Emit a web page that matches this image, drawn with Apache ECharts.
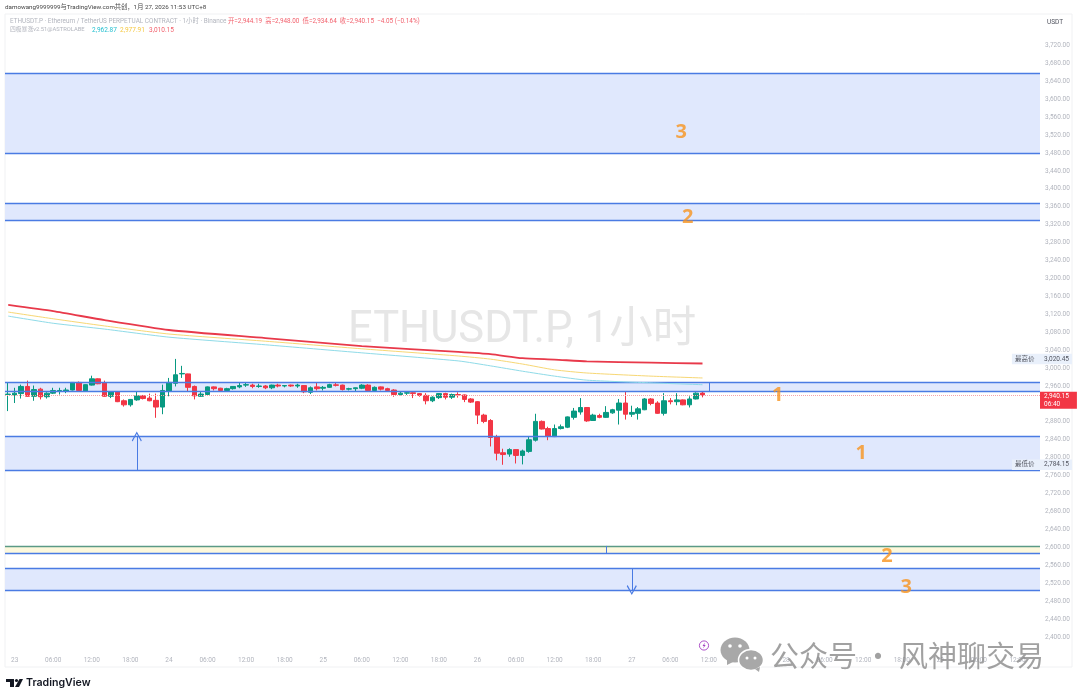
<!DOCTYPE html>
<html>
<head>
<meta charset="utf-8">
<title>ETHUSDT.P</title>
<style>
  html, body { margin: 0; padding: 0; background: #fff; }
  #chart { width: 1080px; height: 699px; }
</style>
<script src="https://cdn.jsdelivr.net/npm/echarts@6/dist/echarts.min.js"></script>
</head>
<body>
<div id="chart"></div>
<script>
// K线数据，每小时一根，从 22日 23:00 开始
var opens = [2941,2940,2943,2959,2937,2953,2936,2944,2949,2949,2951,2968,2949,2962,2976,2967,2937,2947,2927,2918,
  2929,2938,2933,2928,2913,2949,2966,2987,2987,2959,2937,2941,2958,2955,2950,2954,2958,2962,2962,2959,
  2960,2956,2962,2960,2962,2960,2961,2946,2958,2955,2957,2962.5,2962,2953,2954,2955,2962,2950,2958,2954,
  2951,2941,2944,2945,2943,2939,2927,2934,2943,2935,2941,2940,2931,2925,2895,2883,2847,2811,2808,2818,
  2805,2814,2839,2881,2865,2847,2865,2868,2890,2902,2912,2883,2894,2890,2900,2906,2922,2897,2899,2907,
  2931,2922,2899,2927,2925,2929,2918,2931,2944.19];
var closes = [2942,2944,2959,2937,2952,2936,2944,2950,2950,2951,2968,2950,2963,2976,2965,2937,2947,2925,2918,2930,
  2938,2932,2927,2913,2950,2968,2985,2988,2957,2938,2942,2958,2954,2950,2954,2959,2961,2963,2959,2960,
  2956,2962,2960,2961,2960,2962,2947,2956,2954,2957,2963,2961.5,2952,2954,2956,2962,2950,2957,2953,2950,
  2941,2944,2945,2943,2939,2927,2935,2943,2935,2941,2940,2930,2924,2895,2881,2845,2810,2807,2818,2805,
  2815,2840,2881,2864,2848,2865,2869,2891,2904,2912,2882,2895,2890,2901,2907,2922,2897,2901,2909,2931,
  2921,2899,2927,2925,2929,2918,2931,2944,2940.15];
var lows = [2904,2922,2932,2936,2927,2930,2932,2942,2941,2944,2950,2948,2948,2961,2964,2936,2933,2924,2914,2914,
  2927,2930,2926,2889,2897,2937,2959,2978,2948,2930,2936,2940,2950,2948,2947,2952,2955,2958,2955,2956,
  2953,2953,2957,2957,2958,2956,2944,2942,2950,2950,2956,2959,2950,2950,2948,2953,2948,2948,2950,2947,
  2936,2939,2940,2933,2936,2919,2924,2931,2930,2931,2934,2924,2922,2875,2877,2825,2794,2784.15,2802,2787,
  2785,2811,2836,2863,2839,2846,2863,2866,2885,2896,2880,2882,2888,2889,2898,2874,2885,2891,2885,2906,
  2917,2898,2894,2919,2917,2917,2912,2930,2934.64];
var highs = [2968,2956,2963,2972,2961,2956,2946,2956,2956,2956,2968.5,2970,2964,2983,2977,2972,2948,2948,2930,2931,
  2947,2940,2943,2943,2963,2978,3020.45,3005,2987.5,2961,2948,2959,2959,2956,2956,2959.5,2968,2967,2965,2965,
  2962,2963,2965,2962,2963,2965,2962,2959,2967,2960,2965,2967,2963,2956,2956.5,2964,2964,2959,2959,2956,
  2953,2948,2948,2947,2944,2944,2937,2944,2945,2943,2946,2941,2933,2926,2898,2886,2851,2820,2821,2818.5,
  2818,2848,2898,2883,2869,2874,2874,2892,2911,2933,2913,2898,2898,2915,2909,2931,2948,2916,2913,2933,
  2933,2926,2944,2933,2944,2930,2937,2946,2948];

// 四极暴涨三条线，读图取点
var maIndex = [0,7,15,25,40,55,70,75,80,85,90,100,108];
var maCyan = [3116,3100,3087,3069,3052,3034,3016,3005,2993,2982,2973,2967,2962.87];
var maYellow = [3125,3110,3094,3076,3060,3043,3027,3020,3009,2996,2989,2982,2977.91];
var maRed = [3141,3127,3107,3085,3067,3049,3036,3031,3022,3019,3015,3012,3010.15];

// 水平区间
var zoneTops = [3658.6,3368.5,2968,2847,2603,2553.7];
var zoneBottoms = [3480,3329.4,2948,2772.5,2586.6,2504.6];
var zoneFills = ['#e0e8fd','#e0e8fd','#e0e8fd','#e0e8fd','#fdf8dc','#e0e8fd'];

// 区间编号 [K线序号, 价格, 文字]
var zoneNumbers = [[105,3529,'3'],[106,3339.5,'2'],[120,2942,'1'],[133,2811,'1'],[137,2583,'2'],[140,2513.5,'3']];

// 箭头和短竖线 [K线序号, 起点价格, 终点价格]
var arrows = [[20,2772.5,2847],[97,2553.7,2504.6]];
var ticks = [[93,2603,2586.6],[109,2968,2948]];

var lastPrice = 2940.15;
var highPrice = 3020.45;
var lowPrice = 2784.15;
var priceMin = 2360, priceMax = 3800;

var upColor = '#089981', downColor = '#f23645', zoneLine = '#4a7be3';
var textFont = "Roboto, 'Noto Sans CJK SC', sans-serif";

function pad(n) { return n < 10 ? '0' + n : '' + n; }

// 横轴：-1 小时到 159 小时
var categories = [];
var hourOfDay = [];
for (var k = -1; k < 160; k++) {
  var h = (k + 24) % 24;
  hourOfDay.push(h);
  categories.push(h === 0 ? String(23 + k / 24) : pad(h) + ':00');
}

var candles = [];
for (var i = 0; i < opens.length; i++) {
  candles.push([opens[i], closes[i], lows[i], highs[i]]);
}

function maLine(values) {
  return values.map(function (v, n) { return [maIndex[n], v]; });
}

function formatPrice(v) {
  return Math.floor(v / 1000) + ',' + pad3(v % 1000) + '.00';
}
function pad3(n) { return n < 10 ? '00' + n : n < 100 ? '0' + n : '' + n; }

var chevron = 'path://M0 0 L6 8 L5 9 L0 2 L-5 9 L-6 8 Z';

var areaData = [];
var lineData = [];
zoneTops.forEach(function (top, n) {
  areaData.push([{ yAxis: top, itemStyle: { color: zoneFills[n] } }, { yAxis: zoneBottoms[n] }]);
  lineData.push({ yAxis: top, lineStyle: { type: 'solid', color: n === 4 ? '#5b9a86' : zoneLine, width: 1.4 } });
  lineData.push({ yAxis: zoneBottoms[n], lineStyle: { type: 'solid', color: zoneLine, width: 1.4 } });
});
arrows.forEach(function (a) {
  lineData.push([
    { coord: [a[0], a[1]], symbol: 'none', lineStyle: { type: 'solid', color: zoneLine, width: 1 } },
    { coord: [a[0], a[2]], symbol: chevron, symbolSize: 10 }
  ]);
});
ticks.forEach(function (a) {
  lineData.push([
    { coord: [a[0], a[1]], symbol: 'none', lineStyle: { type: 'solid', color: zoneLine, width: 1 } },
    { coord: [a[0], a[2]], symbol: 'none' }
  ]);
});
// 现价虚线
lineData.push({ yAxis: lastPrice, lineStyle: { color: '#f5a3aa', type: 'dotted', width: 1 } });

function tagLine(value, text) {
  return {
    yAxis: value,
    lineStyle: { color: 'rgba(0,0,0,0)' },
    label: {
      show: true, position: 'end', align: 'right', distance: 32,
      formatter: text, color: '#50535e', fontSize: 6.5, fontFamily: textFont,
      backgroundColor: '#e9f0fb', padding: [2, 3, 2, 3]
    }
  };
}
lineData.push(tagLine(highPrice, '最高价      3,020.45'));
lineData.push(tagLine(lowPrice, '最低价      2,784.15'));
lineData.push({
  yAxis: 2928,
  lineStyle: { color: 'rgba(0,0,0,0)' },
  label: {
    show: true, position: 'end', distance: 0,
    formatter: '2,940.15\n06:40', color: '#fff', fontSize: 6.5, lineHeight: 7.5, fontFamily: textFont,
    backgroundColor: downColor, padding: [1, 8, 1, 4]
  }
});

var chart = echarts.init(document.getElementById('chart'));

chart.setOption({
  animation: false,
  backgroundColor: '#fff',
  grid: { left: 5, right: 40, top: 9.66, bottom: 44.2 },
  xAxis: {
    type: 'category',
    data: categories,
    axisLine: { show: false },
    axisTick: { show: false },
    splitLine: { show: false },
    axisLabel: {
      color: '#b2b5be', fontSize: 6.5, margin: 2, fontFamily: textFont,
      interval: function (index) { return hourOfDay[index] % 6 === 0; }
    }
  },
  yAxis: {
    type: 'value',
    position: 'right',
    min: priceMin,
    max: priceMax,
    interval: 40,
    axisLine: { show: false },
    axisTick: { show: false },
    splitLine: { show: false },
    axisLabel: {
      color: '#b2b5be', fontSize: 6.5, margin: 5, fontFamily: textFont,
      formatter: function (v) { return v < 2400 || v > 3720 ? '' : formatPrice(v); }
    }
  },
  series: [
    {
      name: 'ETHUSDT.P',
      type: 'candlestick',
      data: candles,
      barWidth: 5,
      z: 4,
      itemStyle: { color: upColor, color0: downColor, borderColor: upColor, borderColor0: downColor, borderWidth: 1 },
      markArea: { silent: true, data: areaData },
      markLine: {
        silent: true,
        symbol: 'none',
        animation: false,
        label: { show: false },
        data: lineData
      }
    },
    { type: 'line', data: maLine(maCyan), showSymbol: false, smooth: 0.2, z: 5, lineStyle: { color: '#8fdbe8', width: 1 } },
    { type: 'line', data: maLine(maYellow), showSymbol: false, smooth: 0.2, z: 5, lineStyle: { color: '#f7d774', width: 1 } },
    { type: 'line', data: maLine(maRed), showSymbol: false, smooth: 0.2, z: 5, lineStyle: { color: '#e8394a', width: 1.8 } },
    {
      type: 'scatter',
      data: zoneNumbers,
      symbolSize: 0,
      z: 6,
      label: {
        show: true, position: 'inside', offset: [-2, 1],
        formatter: function (p) { return p.value[2]; },
        color: '#f7931e', fontSize: 20, fontWeight: 'bold', fontFamily: "'Noto Sans', sans-serif"
      }
    }
  ],
  graphic: [
    // 边框
    { type: 'rect', z: 0, shape: { x: 5, y: 14, width: 1067, height: 653 }, style: { fill: 'none', stroke: '#f0f1f3' } },
    { type: 'text', z: 1, left: 348, top: 309, style: { text: 'ETHUSDT.P, 1小时', fontSize: 43.5, fontFamily: textFont, fill: '#e6e6e6' } },
    // 顶部文字
    { type: 'text', z: 20, left: 5, top: 4, style: { text: 'damowang9999999与TradingView.com共创，1月 27, 2026 11:53 UTC+8', fontSize: 6.25, fontFamily: textFont, fill: '#444' } },
    { type: 'text', z: 20, left: 10, top: 18, style: { text: 'ETHUSDT.P · Ethereum / TetherUS PERPETUAL CONTRACT · 1小时 · Binance', fontSize: 6.4, fontFamily: textFont, fill: '#b2b5be' } },
    { type: 'text', z: 20, left: 228, top: 18, style: { text: '开=2,944.19  高=2,948.00  低=2,934.64  收=2,940.15  −4.05 (−0.14%)', fontSize: 6.35, fontFamily: textFont, fill: '#f2616d' } },
    { type: 'text', z: 20, left: 10, top: 27, style: { text: '四极暴涨v2.51@ASTROLABE', fontSize: 5.8, fontFamily: textFont, fill: '#b2b5be' } },
    { type: 'text', z: 20, left: 92, top: 27, style: { text: '2,962.87', fontSize: 6.5, fontFamily: textFont, fill: '#22bfd0' } },
    { type: 'text', z: 20, left: 120, top: 27, style: { text: '2,977.91', fontSize: 6.5, fontFamily: textFont, fill: '#f5c842' } },
    { type: 'text', z: 20, left: 149, top: 27, style: { text: '3,010.15', fontSize: 6.5, fontFamily: textFont, fill: '#f2616d' } },
    { type: 'text', z: 20, left: 1047, top: 19, style: { text: 'USDT', fontSize: 6.5, fontFamily: textFont, fill: '#50535e' } },
    // TradingView 标志
    { type: 'polygon', z: 20, shape: { points: [[6, 679], [14, 679], [14, 687], [10, 687], [10, 682], [6, 682]] }, style: { fill: '#131722' } },
    { type: 'circle', z: 20, shape: { cx: 16.5, cy: 680.5, r: 1.6 }, style: { fill: '#131722' } },
    { type: 'polygon', z: 20, shape: { points: [[19.5, 679], [23, 679], [19, 687], [15, 687]] }, style: { fill: '#131722' } },
    { type: 'text', z: 20, left: 26, top: 677, style: { text: 'TradingView', fontSize: 10.6, fontWeight: 600, fontFamily: "Inter, Roboto, sans-serif", fill: '#131722' } },
    // 闪电标记
    { type: 'circle', z: 20, shape: { cx: 704, cy: 645.5, r: 4.6 }, style: { fill: '#fff', stroke: '#a53fc2', lineWidth: 0.9 } },
    { type: 'polygon', z: 21, shape: { points: [[705, 642.5], [702.5, 646], [704, 646], [703, 648.5], [705.7, 645], [704.2, 645]] }, style: { fill: '#a53fc2' } },
    // 公众号水印
    { type: 'ellipse', z: 22, shape: { cx: 735, cy: 650, rx: 14.5, ry: 12.5 }, style: { fill: '#a8a8a8' } },
    { type: 'polygon', z: 22, shape: { points: [[727, 658], [733, 662], [727, 665]] }, style: { fill: '#a8a8a8' } },
    { type: 'circle', z: 22, shape: { cx: 730, cy: 646, r: 1.8 }, style: { fill: '#fff' } },
    { type: 'circle', z: 22, shape: { cx: 740, cy: 646, r: 1.8 }, style: { fill: '#fff' } },
    { type: 'ellipse', z: 23, shape: { cx: 751, cy: 660, rx: 12.5, ry: 10.5 }, style: { fill: '#a8a8a8', stroke: '#fff', lineWidth: 1.5 } },
    { type: 'polygon', z: 23, shape: { points: [[755, 669], [760, 667], [759, 672]] }, style: { fill: '#a8a8a8' } },
    { type: 'circle', z: 24, shape: { cx: 747, cy: 658, r: 1.5 }, style: { fill: '#fff' } },
    { type: 'circle', z: 24, shape: { cx: 755, cy: 658, r: 1.5 }, style: { fill: '#fff' } },
    { type: 'text', z: 22, left: 770, top: 641, style: { text: '公众号 · 风神聊交易', fontSize: 29, fontFamily: "'Noto Sans CJK SC', sans-serif", fill: 'rgba(130,130,130,0.75)' } }
  ]
});
</script>
</body>
</html>
